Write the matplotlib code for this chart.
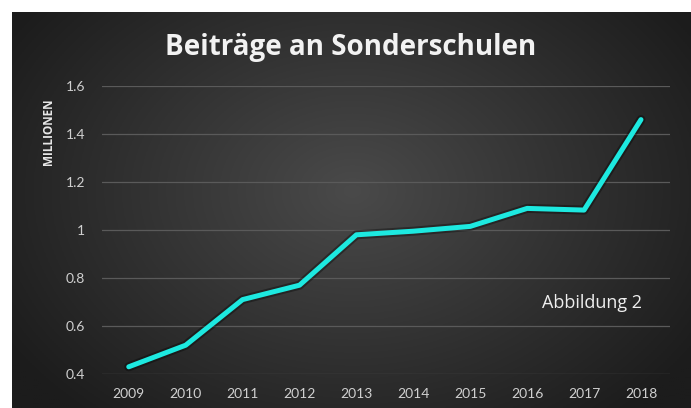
import numpy as np
import matplotlib
matplotlib.use("Agg")
import matplotlib.pyplot as plt

years = ["2009", "2010", "2011", "2012", "2013", "2014", "2015", "2016", "2017", "2018"]
values = [0.43, 0.52, 0.71, 0.77, 0.98, 0.995, 1.015, 1.09, 1.083, 1.46]
yticks = [0.4, 0.6, 0.8, 1.0, 1.2, 1.4, 1.6]
ytick_labels = ["0.4", "0.6", "0.8", "1", "1.2", "1.4", "1.6"]

W, H = 691, 408
fig = plt.figure(figsize=(W / 100, H / 100), dpi=100, facecolor="white")

# background radial gradient panel
bg = fig.add_axes([12 / W, 0, 1 - 12 / W, 1 - 12 / H])
bg.set_axis_off()
ny, nx = 200, 340
yy, xx = np.mgrid[0:ny, 0:nx]
cx, cy = nx * 0.5, ny * 0.45
r = np.sqrt(((xx - cx) / (nx * 0.6)) ** 2 + ((yy - cy) / (ny * 0.75)) ** 2)
r = np.clip(r, 0, 1)
inner = np.array([0x4a, 0x4a, 0x4a]) / 255
outer = np.array([0x1c, 0x1c, 0x1c]) / 255
img = inner[None, None, :] * (1 - r[..., None]) + outer[None, None, :] * r[..., None]
bg.imshow(img, aspect="auto", extent=[0, 1, 0, 1], origin="upper")
bg.set_xlim(0, 1)
bg.set_ylim(0, 1)

ax = fig.add_axes([102 / W, 1 - 374 / H, (670 - 102) / W, (374 - 86) / H])
ax.patch.set_alpha(0)
x = np.arange(len(years))
ax.plot(x, values, color="#000000", lw=6.5, alpha=0.35, solid_capstyle="round",
        solid_joinstyle="round", zorder=2)
ax.plot(x, values, color="#1de9e0", lw=3.6, solid_capstyle="round",
        solid_joinstyle="round", zorder=3)
ax.set_xlim(-0.47, 9.51)
ax.set_ylim(0.4, 1.6)
ax.set_yticks(yticks)
ax.set_yticklabels(ytick_labels)
ax.set_xticks(x)
ax.set_xticklabels(years)
for s in ax.spines.values():
    s.set_visible(False)
ax.tick_params(length=0, colors="#d0d0d0", labelsize=10)
ax.tick_params(axis="y", pad=12)
ax.tick_params(axis="x", pad=10)
for lbl in ax.get_xticklabels() + ax.get_yticklabels():
    lbl.set_fontfamily("Lato")
ax.grid(axis="y", color="#5a5a5a", lw=0.9)
ax.set_axisbelow(True)

fig.text(351 / W, 1 - 55 / H, "Beiträge an Sonderschulen", ha="center", va="baseline",
         color="#f2f2f2", fontsize=20, fontweight="bold", fontfamily="Open Sans")
fig.text(48 / W, 1 - 132 / H, "MILLIONEN", ha="center", va="center", rotation=90,
         color="#e8e8e8", fontsize=8.5, fontweight="bold", fontfamily="Open Sans")
fig.text(592 / W, 1 - 303 / H, "Abbildung 2", ha="center", va="center",
         color="#eeeeee", fontsize=13, fontfamily="Open Sans")

fig.savefig("out.png", dpi=100, facecolor="white")
